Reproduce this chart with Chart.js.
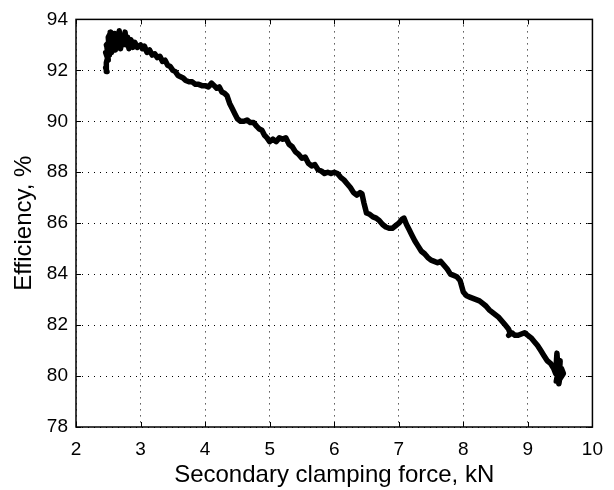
<!DOCTYPE html>
<html>
<head>
<meta charset="utf-8">
<script src="https://cdn.jsdelivr.net/npm/chart.js@4"></script>
<style>
html,body{margin:0;padding:0;background:#fff;}
#wrap{width:614px;height:490px;}
</style>
</head>
<body>
<div id="wrap"><canvas id="c" width="614" height="490"></canvas></div>
<script>
const forceKN = [
2.46,2.48,2.47,2.49,2.46,2.50,2.48,2.51,2.47,2.52,2.50,2.54,2.53,2.56,2.55,2.58,2.60,2.61,2.63,2.65,2.67,2.69,2.71,2.73,2.76,2.78,2.80,2.82,2.85,2.88,2.91,2.95,
3.00,3.03,3.06,3.10,3.14,3.18,3.22,3.26,3.30,3.34,3.38,3.42,3.46,3.50,3.54,3.58,3.62,3.66,3.70,3.75,3.80,3.85,3.90,3.95,
4.00,4.05,4.10,4.14,4.18,4.22,4.26,4.30,4.34,4.38,4.42,4.46,4.50,4.55,4.60,4.65,4.70,4.75,4.80,4.84,4.88,4.92,4.96,
5.00,5.05,5.10,5.15,5.20,5.25,5.30,5.35,5.40,5.45,5.50,5.55,5.60,5.65,5.70,5.75,5.80,5.85,5.90,5.95,
6.00,6.05,6.10,6.15,6.20,6.25,6.30,6.35,6.40,6.43,6.46,6.50,6.55,6.60,6.65,6.70,6.75,6.80,6.85,6.90,6.95,
7.00,7.05,7.08,7.12,7.16,7.20,7.25,7.30,7.35,7.40,7.45,7.50,7.55,7.60,7.65,7.70,7.75,7.80,7.85,7.90,7.95,
8.00,8.05,8.10,8.15,8.20,8.25,8.30,8.35,8.40,8.45,8.50,8.55,8.60,8.65,8.70,8.73,8.70,8.75,8.80,8.85,8.90,8.95,
9.00,9.05,9.10,9.15,9.20,9.25,9.30,9.35,9.40,9.43,9.45,9.47,9.44,9.50,9.48,9.52,9.55,9.50,9.46
];
const efficiencyPct = [
92.1,91.95,92.3,92.5,92.7,92.4,92.9,93.1,93.0,92.6,93.3,93.5,92.9,93.2,92.7,93.0,93.45,92.8,93.3,92.9,93.55,92.85,93.3,93.0,93.5,93.0,93.3,92.85,93.2,92.9,93.1,92.9,
93.0,92.85,92.95,92.7,92.8,92.6,92.65,92.5,92.55,92.35,92.4,92.2,92.15,92.0,91.95,91.8,91.75,91.7,91.6,91.55,91.55,91.45,91.45,91.4,
91.4,91.35,91.5,91.4,91.3,91.35,91.15,91.1,91.0,90.7,90.5,90.3,90.1,90.0,90.0,90.05,89.95,89.95,89.8,89.7,89.65,89.45,89.35,
89.2,89.3,89.2,89.35,89.3,89.35,89.1,89.0,88.8,88.7,88.55,88.6,88.35,88.25,88.3,88.1,88.05,87.95,88.0,87.95,
88.0,87.95,87.8,87.7,87.55,87.4,87.2,87.1,87.2,87.15,86.8,86.4,86.35,86.25,86.2,86.1,85.95,85.85,85.8,85.8,85.9,
86.0,86.15,86.2,85.95,85.75,85.55,85.3,85.1,84.9,84.8,84.65,84.55,84.5,84.45,84.5,84.35,84.2,84.0,83.95,83.9,83.75,
83.3,83.15,83.1,83.05,83.0,82.95,82.85,82.75,82.6,82.5,82.4,82.3,82.15,82.0,81.85,81.65,81.6,81.7,81.6,81.6,81.65,81.7,
81.6,81.5,81.35,81.2,81.0,80.8,80.6,80.5,80.3,80.1,80.9,80.2,79.8,80.6,79.7,80.3,80.1,79.9,80.5
];
const xTicks = [2,3,4,5,6,7,8,9,10];
const yTicks = [78,80,82,84,86,88,90,92,94];

const points = forceKN.map((x,i)=>({x:x,y:efficiencyPct[i]}));
const FONT = '"Liberation Sans", Arial, sans-serif';

const frame = {
  id:'frame',
  afterDraw(chart){
    const a = chart.chartArea, ctx = chart.ctx;
    ctx.save();
    ctx.strokeStyle = '#000';
    ctx.lineWidth = 1.5;
    ctx.strokeRect(a.left, a.top, a.right-a.left, a.bottom-a.top);
    ctx.lineWidth = 1;
    const xs = chart.scales.x, ys = chart.scales.y;
    xTicks.forEach(v=>{
      const px = Math.round(xs.getPixelForValue(v))+0.5;
      ctx.beginPath();
      ctx.moveTo(px,a.bottom); ctx.lineTo(px,a.bottom-5);
      ctx.moveTo(px,a.top); ctx.lineTo(px,a.top+5);
      ctx.stroke();
    });
    yTicks.forEach(v=>{
      const py = Math.round(ys.getPixelForValue(v))+0.5;
      ctx.beginPath();
      ctx.moveTo(a.left,py); ctx.lineTo(a.left+5,py);
      ctx.moveTo(a.right,py); ctx.lineTo(a.right-5,py);
      ctx.stroke();
    });
    ctx.restore();
  }
};

new Chart(document.getElementById('c'), {
  type:'line',
  data:{ datasets:[{
    data: points,
    borderColor:'#000',
    backgroundColor:'#000',
    borderWidth:5.5,
    pointRadius:0,
    tension:0,
    fill:false,
    borderJoinStyle:'round',
    borderCapStyle:'round'
  }]},
  options:{
    responsive:false,
    animation:false,
    layout:{padding:{left:0,right:14,top:15,bottom:0}},
    plugins:{legend:{display:false},tooltip:{enabled:false}},
    scales:{
      x:{
        type:'linear', min:2, max:10,
        afterBuildTicks(s){ s.ticks = xTicks.map(v=>({value:v})); },
        afterFit(s){ s.height = 63; },
        grid:{color:'#000', lineWidth:1, drawTicks:false, tickLength:0},
        border:{display:false, dash:[1,5]},
        ticks:{color:'#000', padding:11, font:{family:FONT, size:19}},
        title:{display:true, text:'Secondary clamping force, kN', color:'#000', padding:{top:3,bottom:0}, font:{family:FONT, size:24}}
      },
      y:{
        type:'linear', min:78, max:94,
        afterBuildTicks(s){ s.ticks = yTicks.map(v=>({value:v})); },
        afterFit(s){ s.width = 76; },
        grid:{color:'#000', lineWidth:1, drawTicks:false, tickLength:0},
        border:{display:false, dash:[1,5]},
        ticks:{color:'#000', padding:8, font:{family:FONT, size:19}},
        title:{display:true, text:'Efficiency, %', color:'#000', padding:{top:10,bottom:0}, font:{family:FONT, size:24}}
      }
    }
  },
  plugins:[frame]
});
</script>
</body>
</html>
